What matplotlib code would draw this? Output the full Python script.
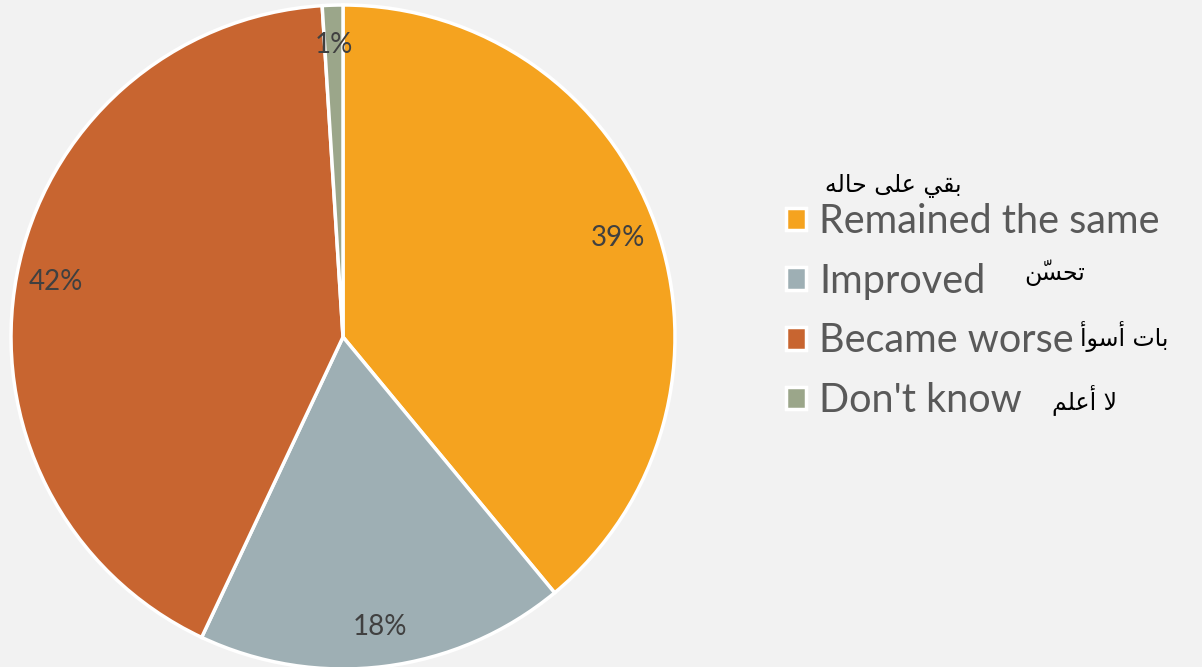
import matplotlib.pyplot as plt

# data
labels = ['Remained the same', 'Improved', 'Became worse', "Don't know"]
shares = [39, 18, 42, 1]
colors = ['#F5A31F', '#9EAFB4', '#C86530', '#9BA68A']

# arabic captions, pre-shaped (presentation forms, visual order) since matplotlib has no bidi
arabic = [
    '\uFEEA\uFEDF\uFE8E\uFEA3 \uFEF0\uFEE0\uFECB \uFEF2\uFED8\uFE91',   # بقي على حاله
    '\uFEE6\u0651\uFEB4\uFEA4\uFE97',                                    # تحسّن
    '\uFE83\uFEEE\uFEB3\uFE83 \uFE95\uFE8E\uFE91',                       # بات أسوأ
    '\uFEE2\uFEE0\uFECB\uFE83 \uFEFB',                                   # لا أعلم
]
arabic_pos = [(893, 186), (1055, 273), (1124, 336), (1085, 400)]

W, H = 1202, 667
bg = '#F2F2F2'
fig = plt.figure(figsize=(W / 100, H / 100), dpi=100, facecolor=bg)

cx, cy, r = 343, 337, 332
ax = fig.add_axes([(cx - r) / W, (H - cy - r) / H, 2 * r / W, 2 * r / H])
ax.set_facecolor(bg)

wedges, texts, autotexts = ax.pie(
    shares, colors=colors, startangle=90, counterclock=False,
    autopct='%1.0f%%', pctdistance=0.88,
    wedgeprops=dict(edgecolor='white', linewidth=2.5),
    textprops=dict(fontsize=20, color='#404040', family='Lato'))
ax.set_xlim(-1, 1)
ax.set_ylim(-1, 1)
ax.set_aspect('equal')
ax.axis('off')

leg = fig.legend(wedges, labels, loc='center left',
                 bbox_to_anchor=(766 / W, 1 - 311 / H),
                 frameon=False, prop=dict(family='Lato', size=28.5),
                 labelcolor='#595959', handlelength=0.5, handleheight=0.5,
                 handletextpad=0.35, labelspacing=0.57, borderpad=0)

for txt, (x, y) in zip(arabic, arabic_pos):
    fig.text(x / W, 1 - y / H, txt, ha='center', va='center',
             fontsize=17, color='black', family='DejaVu Sans')

fig.savefig('out.png', dpi=100, facecolor=bg)
